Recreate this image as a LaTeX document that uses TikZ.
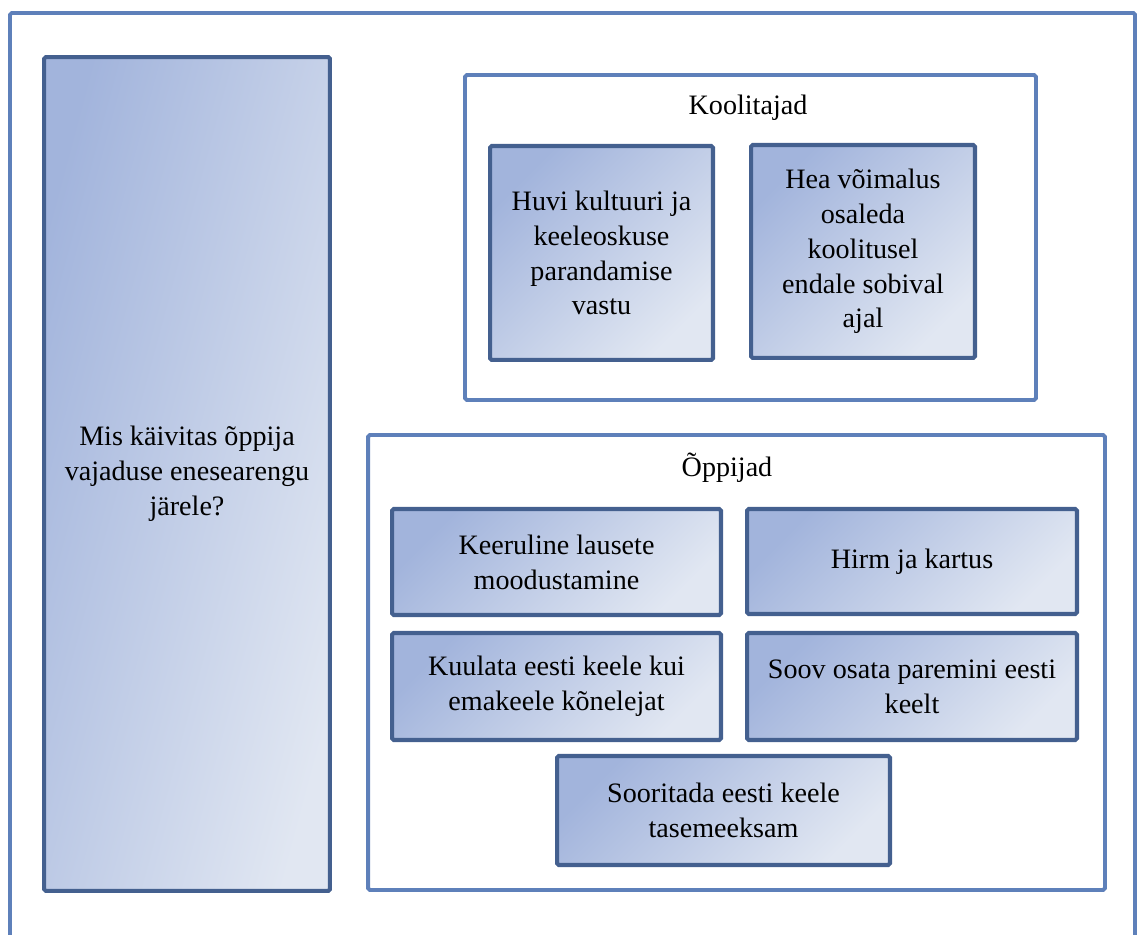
\documentclass[tikz,border=0pt]{standalone}
\usepackage{fontspec}
\setmainfont{Liberation Serif}
\usepackage{xcolor}
\usepackage{tikz}

\definecolor{boxline}{HTML}{44608F}
\definecolor{frameline}{HTML}{5E80BA}
\definecolor{shadedark}{HTML}{A2B4DC}
\definecolor{shadelight}{HTML}{E1E7F2}

\tikzset{
  itembox/.style={draw=boxline,line width=2.3pt,rounded corners=1pt,align=center,
    top color=shadedark,bottom color=shadelight,shading angle=45,
    font=\fontsize{16pt}{19.8pt}\selectfont,inner sep=4pt},
  groupbox/.style={draw=frameline,line width=2.2pt,rounded corners=1pt},
  grouptitle/.style={font=\fontsize{16pt}{19.8pt}\selectfont}
}

\begin{document}
\begin{tikzpicture}[x=0.02cm,y=-0.02cm]
    \clip (0,0) rectangle (1138,935);
    \draw[groupbox] (10,13) rectangle (1135,980);
    \node[itembox,minimum width=5.72cm,minimum height=16.68cm,
      left color=shadedark,right color=shadelight,shading angle=75] (question) at (187,474)
      {Mis käivitas õppija\\vajaduse enesearengu\\järele?};
    \node[groupbox,minimum width=11.42cm,minimum height=6.5cm] (trainers) at (750.5,237.5) {};
    \node[grouptitle] (trainerstitle) at (748,108) {Koolitajad};
    \node[itembox,minimum width=4.46cm,minimum height=4.28cm] (interest) at (601.5,253)
      {Huvi kultuuri ja\\keeleoskuse\\parandamise\\vastu};
    \node[itembox,minimum width=4.48cm,minimum height=4.26cm] (chance) at (863,251.5)
      {Hea võimalus\\osaleda\\koolitusel\\endale sobival\\ajal};
    \node[groupbox,minimum width=14.74cm,minimum height=9.1cm] (learners) at (736.5,662.5) {};
    \node[grouptitle] (learnerstitle) at (727,468) {Õppijad};
    \node[itembox,minimum width=6.58cm,minimum height=2.12cm] (sentences) at (556.5,562)
      {Keeruline lausete\\moodustamine};
    \node[itembox,minimum width=6.6cm,minimum height=2.1cm] (fear) at (912,561.5)
      {Hirm ja kartus};
    \node[itembox,minimum width=6.58cm,minimum height=2.14cm] (listen) at (556.5,686.5)
      {Kuulata eesti keele kui\\emakeele kõnelejat};
    \node[itembox,minimum width=6.6cm,minimum height=2.14cm] (wish) at (912,686.5)
      {Soov osata paremini eesti\\keelt};
    \node[itembox,minimum width=6.66cm,minimum height=2.18cm] (exam) at (723.5,810.5)
      {Sooritada eesti keele\\tasemeeksam};
\end{tikzpicture}
\end{document}
